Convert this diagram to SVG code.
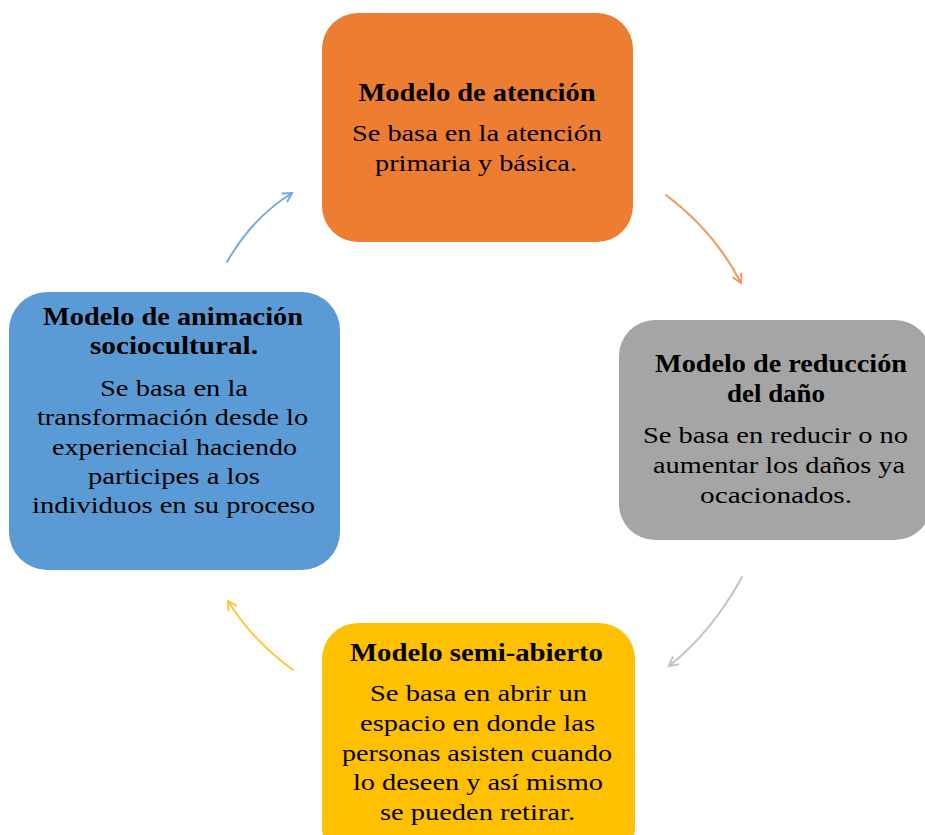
<svg xmlns="http://www.w3.org/2000/svg" width="925" height="835" viewBox="0 0 925 835">
<defs>
<style>
.t{font-family:"Liberation Serif",Tinos,"Times New Roman","DejaVu Serif",serif;font-size:24.5px;font-weight:bold;fill:#000;text-anchor:middle}
.b{font-family:"Liberation Serif",Tinos,"Times New Roman","DejaVu Serif",serif;font-size:24px;fill:#000;text-anchor:middle}
.c{fill:none;stroke-width:2;stroke-linecap:round}
</style>
<marker id="mo" viewBox="0 0 12 12" refX="10" refY="6" markerWidth="12" markerHeight="12" markerUnits="userSpaceOnUse" orient="auto"><path d="M1,1 L10,6 L1,11" fill="none" stroke="#F19A5C" stroke-width="2"/></marker>
<marker id="mg" viewBox="0 0 12 12" refX="10" refY="6" markerWidth="12" markerHeight="12" markerUnits="userSpaceOnUse" orient="auto"><path d="M1,1 L10,6 L1,11" fill="none" stroke="#C4C4C4" stroke-width="2"/></marker>
<marker id="my" viewBox="0 0 12 12" refX="10" refY="6" markerWidth="12" markerHeight="12" markerUnits="userSpaceOnUse" orient="auto"><path d="M1,1 L10,6 L1,11" fill="none" stroke="#FFC83A" stroke-width="2"/></marker>
<marker id="mb" viewBox="0 0 12 12" refX="10" refY="6" markerWidth="12" markerHeight="12" markerUnits="userSpaceOnUse" orient="auto"><path d="M1,1 L10,6 L1,11" fill="none" stroke="#72ABE0" stroke-width="2"/></marker>
</defs>
<rect width="925" height="835" fill="#fff"/>
<g id="connectors">
<path class="c" d="M666,195 Q715,232 741,283" stroke="#F19A5C" marker-end="url(#mo)"/>
<path class="c" d="M742,577 Q712,632 669,666" stroke="#C4C4C4" marker-end="url(#mg)"/>
<path class="c" d="M293,670 Q252,640 228,601" stroke="#FFC83A" marker-end="url(#my)"/>
<path class="c" d="M227,262 Q252,218 292,193" stroke="#72ABE0" marker-end="url(#mb)"/>
</g>
<g id="n1">
<rect x="322" y="13" width="311" height="229" rx="36" fill="#ED7D31"/>
<text class="t" x="477" y="101" textLength="237" lengthAdjust="spacingAndGlyphs">Modelo de atención</text>
<text class="b" x="477" y="141" textLength="250" lengthAdjust="spacingAndGlyphs">Se basa en la atención</text>
<text class="b" x="476" y="171" textLength="202" lengthAdjust="spacingAndGlyphs">primaria y básica.</text>
</g>
<g id="n2">
<rect x="619" y="320" width="312" height="220" rx="36" fill="#A5A5A5"/>
<text class="t" x="781" y="372" textLength="252" lengthAdjust="spacingAndGlyphs">Modelo de reducción</text>
<text class="t" x="776" y="402" textLength="98" lengthAdjust="spacingAndGlyphs">del daño</text>
<text class="b" x="775.5" y="443" textLength="265" lengthAdjust="spacingAndGlyphs">Se basa en reducir o no</text>
<text class="b" x="779" y="473" textLength="252" lengthAdjust="spacingAndGlyphs">aumentar  los daños  ya</text>
<text class="b" x="776" y="503" textLength="152" lengthAdjust="spacingAndGlyphs">ocacionados.</text>
</g>
<g id="n3">
<rect x="322" y="623" width="313" height="240" rx="36" fill="#FFC000"/>
<text class="t" x="476.5" y="661" textLength="253" lengthAdjust="spacingAndGlyphs">Modelo semi-abierto</text>
<text class="b" x="478.5" y="701" textLength="217" lengthAdjust="spacingAndGlyphs">Se basa en abrir un</text>
<text class="b" x="477.5" y="731" textLength="235" lengthAdjust="spacingAndGlyphs">espacio en donde las</text>
<text class="b" x="477" y="761" textLength="270" lengthAdjust="spacingAndGlyphs">personas asisten cuando</text>
<text class="b" x="478" y="790" textLength="250" lengthAdjust="spacingAndGlyphs">lo deseen y así mismo</text>
<text class="b" x="477.5" y="820" textLength="195" lengthAdjust="spacingAndGlyphs">se pueden retirar.</text>
</g>
<g id="n4">
<rect x="9" y="292" width="331" height="278" rx="38" fill="#5B9BD5"/>
<text class="t" x="173" y="325" textLength="260" lengthAdjust="spacingAndGlyphs">Modelo de animación</text>
<text class="t" x="174" y="354" textLength="168" lengthAdjust="spacingAndGlyphs">sociocultural.</text>
<text class="b" x="174" y="396" textLength="148" lengthAdjust="spacingAndGlyphs">Se basa en la</text>
<text class="b" x="172.5" y="425" textLength="271" lengthAdjust="spacingAndGlyphs">transformación desde lo</text>
<text class="b" x="174.5" y="455" textLength="245" lengthAdjust="spacingAndGlyphs">experiencial haciendo</text>
<text class="b" x="174" y="484" textLength="172" lengthAdjust="spacingAndGlyphs">participes a los</text>
<text class="b" x="173.5" y="513" textLength="283" lengthAdjust="spacingAndGlyphs">individuos  en su proceso</text>
</g>
</svg>
